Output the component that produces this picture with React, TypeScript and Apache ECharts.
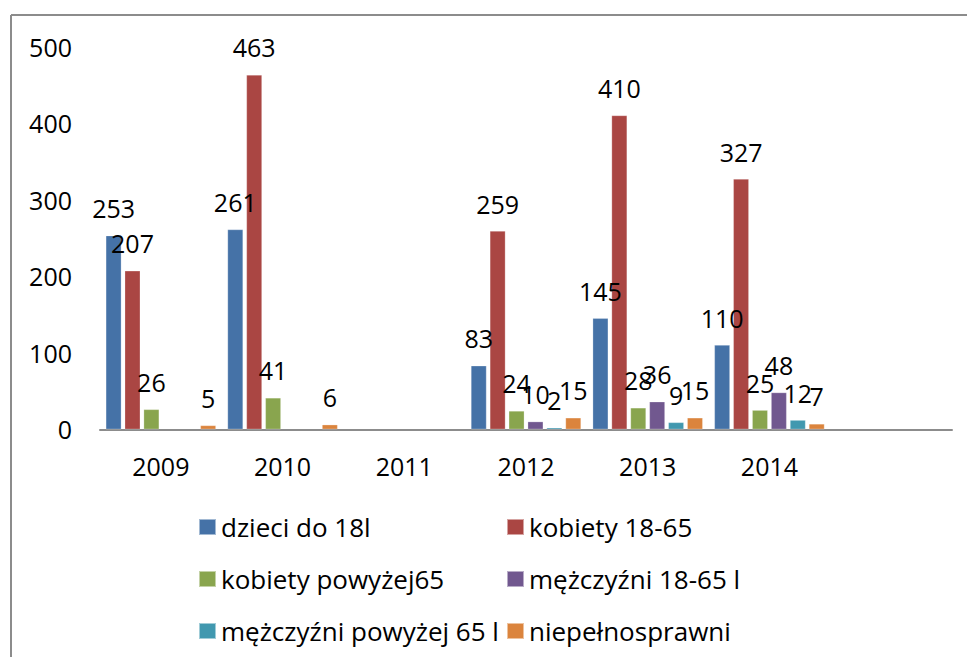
import React, { useEffect, useRef } from "react";
import * as echarts from "echarts";

const categories = ["2009", "2010", "2011", "2012", "2013", "2014", ""];
const seriesNames = [
  "dzieci do 18l",
  "kobiety 18-65",
  "kobiety powyżej65",
  "mężczyźni 18-65 l",
  "mężczyźni powyżej 65 l",
  "niepełnosprawni",
];
const dzieci = [253, 261, null, 83, 145, 110, null];
const kobiety1865 = [207, 463, null, 259, 410, 327, null];
const kobietyPow65 = [26, 41, null, 24, 28, 25, null];
const mezczyzni1865 = [null, null, null, 10, 36, 48, null];
const mezczyzniPow65 = [null, null, null, 2, 9, 12, null];
const niepelnosprawni = [5, 6, null, 15, 15, 7, null];
const yTicks = [0, 100, 200, 300, 400, 500];

const colors = ["#4572A7", "#AA4643", "#89A54E", "#71588F", "#4198AF", "#DB843D"];
const FONT = "'Open Sans', 'Noto Sans', sans-serif";

export default function App() {
  const ref = useRef<HTMLDivElement>(null);
  useEffect(() => {
    if (!ref.current) return;
    const chart = echarts.init(ref.current, null, { renderer: "svg" });
    const allData = [dzieci, kobiety1865, kobietyPow65, mezczyzni1865, mezczyzniPow65, niepelnosprawni];
    const legendText = { fontFamily: FONT, fontSize: 26, lineHeight: 26, color: "#000" };
    chart.setOption({
      animation: false,
      backgroundColor: "#ffffff",
      textStyle: { fontFamily: FONT },
      grid: { left: 100, right: 15, top: 46.6, bottom: 227.7, containLabel: false },
      graphic: [
        {
          type: "line",
          shape: { x1: 11, y1: 15, x2: 967, y2: 15 },
          style: { stroke: "#8c8c8c", lineWidth: 2 },
          silent: true,
        },
        {
          type: "line",
          shape: { x1: 11, y1: 15, x2: 11, y2: 657 },
          style: { stroke: "#8c8c8c", lineWidth: 2 },
          silent: true,
        },
      ],
      legend: [
        {
          orient: "vertical",
          left: 198,
          top: 514,
          padding: 0,
          itemWidth: 17,
          itemHeight: 16,
          itemGap: 26,
          icon: "rect",
          data: [seriesNames[0], seriesNames[2], seriesNames[4]],
          textStyle: legendText,
        },
        {
          orient: "vertical",
          left: 506,
          top: 514,
          padding: 0,
          itemWidth: 17,
          itemHeight: 16,
          itemGap: 26,
          icon: "rect",
          data: [seriesNames[1], seriesNames[3], seriesNames[5]],
          textStyle: legendText,
        },
      ],
      xAxis: {
        type: "category",
        data: categories,
        axisLine: { show: true, lineStyle: { color: "#8c8c8c", width: 2 } },
        axisTick: { show: false },
        axisLabel: { color: "#000", fontFamily: FONT, fontSize: 25, margin: 24, interval: 0 },
        splitLine: { show: false },
      },
      yAxis: {
        type: "value",
        min: 0,
        max: yTicks[yTicks.length - 1],
        interval: 100,
        axisLine: { show: false },
        axisTick: { show: false },
        splitLine: { show: false },
        axisLabel: { color: "#000", fontFamily: FONT, fontSize: 25, margin: 28 },
      },
      series: seriesNames.map((name, i) => ({
        name,
        type: "bar",
        data: allData[i],
        barWidth: 15.5,
        barGap: "22%",
        itemStyle: { color: colors[i], borderColor: "rgba(255,255,255,0.5)", borderWidth: 0.5 },
        label: {
          show: true,
          position: "top",
          distance: 15,
          color: "#000",
          fontFamily: FONT,
          fontSize: 25,
          lineHeight: 25,
        },
      })),
    });
    return () => chart.dispose();
  }, []);
  return (
    <div
      ref={ref}
      style={{ position: "fixed", left: 0, top: 0, width: 967, height: 657, background: "#fff" }}
    />
  );
}
